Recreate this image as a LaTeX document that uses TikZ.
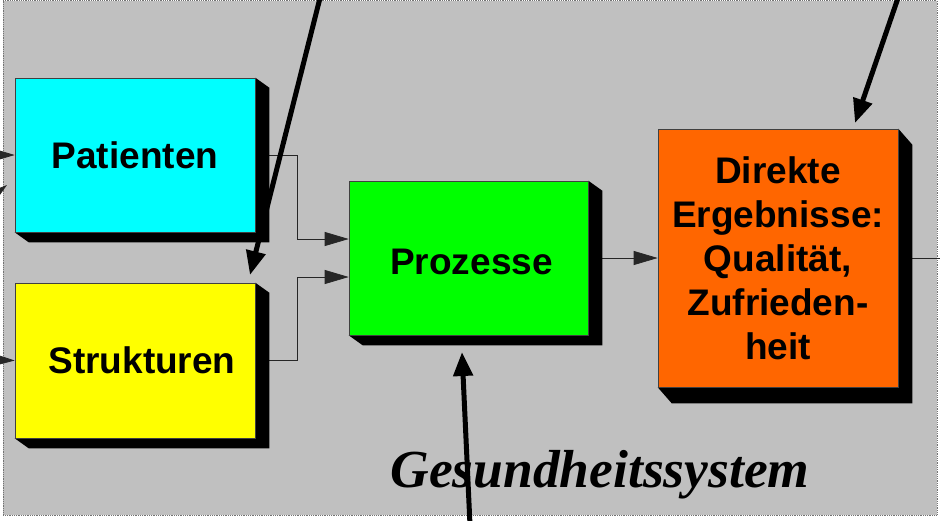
\documentclass[tikz,border=0pt]{standalone}
\usepackage{fontspec}
\setmainfont{Liberation Sans}
\newfontfamily\tnr{Liberation Serif}
\usetikzlibrary{arrows.meta,calc}
\pgfdeclarelayer{bg}
\pgfdeclarelayer{shad}
\pgfsetlayers{bg,shad,main}
\definecolor{bggrey}{HTML}{C0C0C0}
\definecolor{cyanbox}{HTML}{00FFFF}
\definecolor{yellowbox}{HTML}{FFFF00}
\definecolor{greenbox}{HTML}{00FF00}
\definecolor{orangebox}{HTML}{FF6600}
\tikzset{
  box/.style={draw=black!75, line width=0.6pt, minimum width=240pt, inner sep=0pt,
    align=center, font=\bfseries\fontsize{37}{44}\selectfont},
  conn/.style={draw=black!85, line width=0.7pt, -{Triangle[length=24pt,width=14pt]}},
  thick arrow/.style={draw=black, line width=5pt, -{Triangle[length=24pt,width=19pt]}},
}
\newcommand\boxshadow[3]{%
  \begin{pgfonlayer}{shad}
  \fill[black] (#1.north east) -- ++(#2,#3) -- ([shift={(#2,#3)}]#1.south east)
    -- ([shift={(#2,#3)}]#1.south west) -- (#1.south west) -- (#1.south east) -- cycle;
  \end{pgfonlayer}}
\begin{document}
\begin{tikzpicture}[x=1pt,y=-1pt]
\useasboundingbox (0,0) rectangle (940,520);
\clip (0,0) rectangle (940,520);
\begin{pgfonlayer}{bg}
\fill[white] (0,0) rectangle (940,520);
\draw[fill=bggrey, draw=black!55, densely dotted, line width=0.8pt] (3,0.5) rectangle (937,515);
\end{pgfonlayer}

\node[box, fill=cyanbox, minimum height=154pt] (pat) at (135,155) {Patienten};
\node[box, fill=yellowbox, minimum height=155pt] (str) at (135,360.5) {\hspace*{14pt}Strukturen};
\node[box, fill=greenbox, minimum width=239pt, minimum height=154pt] (pro) at (468.5,258) {\raisebox{-4pt}[\height][\depth]{\hspace*{6pt}Prozesse}};
\node[box, fill=orangebox, minimum height=258pt] (dir) at (778,258) {Direkte\\Ergebnisse:\\Qualität,\\Zufrieden-\\heit};

\boxshadow{pat}{14}{10}
\boxshadow{str}{14}{10}
\boxshadow{pro}{14}{10}
\boxshadow{dir}{14}{16}

\coordinate (inP) at (-2,155);
\coordinate (inDa) at (-25,210);
\coordinate (inDb) at (7,185);
\coordinate (inS) at (-2,360);
\coordinate (outD) at (945,258);
\coordinate (tA1) at (320,-2);
\coordinate (tA2) at (250,275);
\coordinate (tB1) at (898,-2);
\coordinate (tB2) at (855,123);
\coordinate (tC1) at (470,525);
\coordinate (tC2) at (462,352);

\begin{pgfonlayer}{bg}
\draw[conn] (pat.east) -- ++(42,0) |- ([yshift=19pt]pro.west);
\draw[conn] (str.east) -- ++(42,0) |- ([yshift=-19pt]pro.west);
\draw[conn] (pro.east) -- (dir.west);
\draw[draw=black!85, line width=0.7pt] (dir.east) -- (outD);
\draw[conn] (inP) -- (pat.west);
\draw[conn] (inS) -- (str.west);
\draw[conn] (inDa) -- (inDb);
\end{pgfonlayer}

\node[font=\tnr\bfseries\itshape\fontsize{53.5}{62}\selectfont, anchor=base, inner sep=0pt] (gs) at (600,487) {Gesundheitssystem};

\draw[thick arrow] (tA1) -- (tA2);
\draw[thick arrow] (tB1) -- (tB2);
\draw[thick arrow] (tC1) -- (tC2);
\end{tikzpicture}
\end{document}
